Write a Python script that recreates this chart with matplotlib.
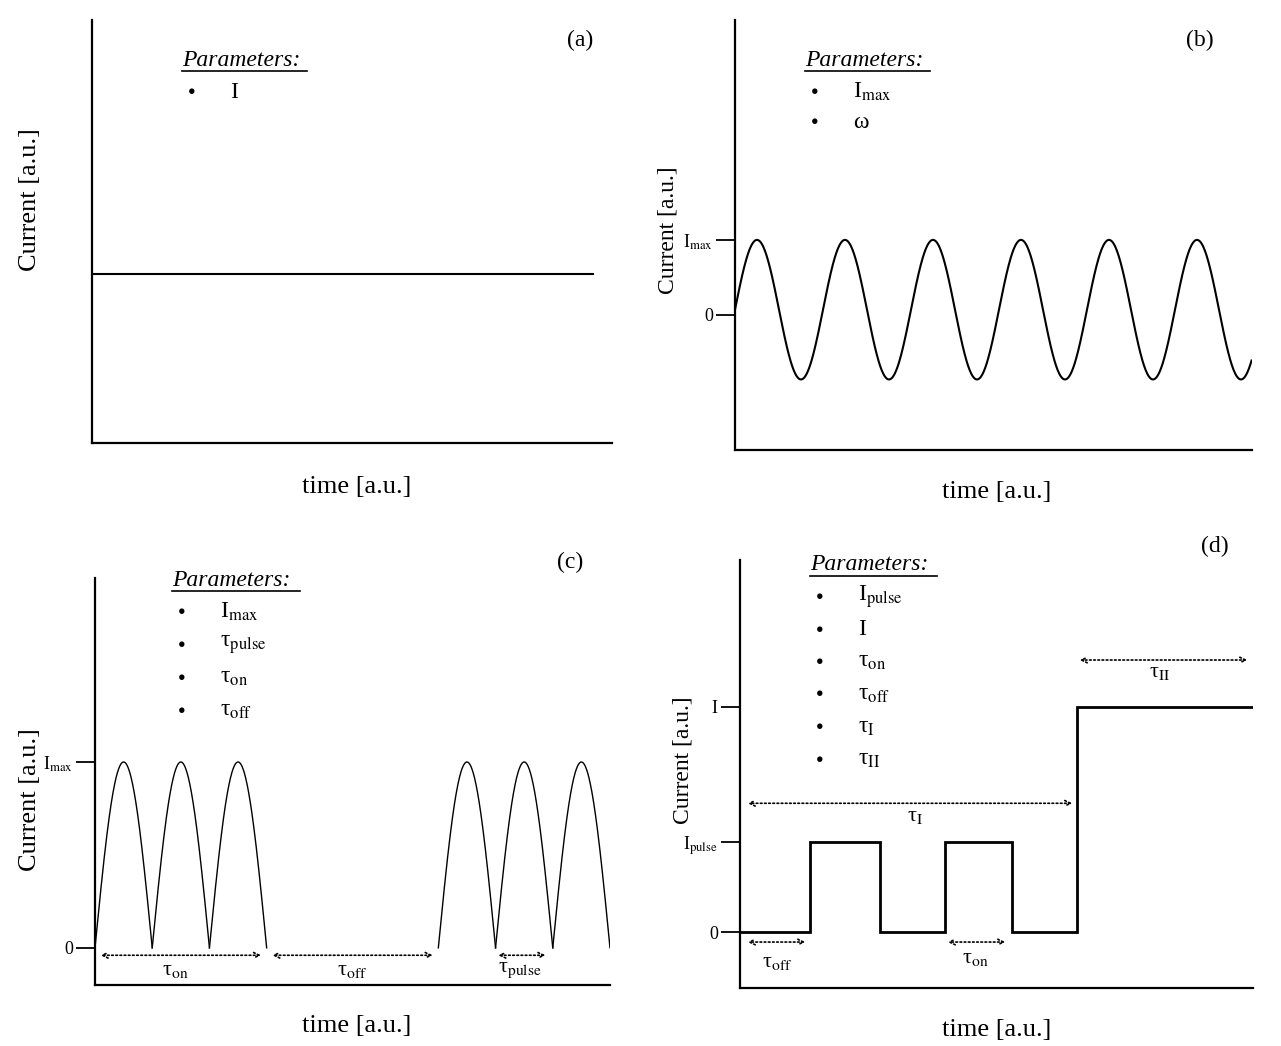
import numpy as np
import matplotlib
matplotlib.use("Agg")
import matplotlib.pyplot as plt
from matplotlib.lines import Line2D

plt.rcParams['font.family'] = ['Liberation Serif', 'DejaVu Serif']
plt.rcParams['mathtext.fontset'] = 'stix'

W, H = 1281, 1046
fig = plt.figure(figsize=(W/100, H/100), dpi=100)

def axpx(l, t, r, b):
    ax = fig.add_axes([l/W, 1-b/H, (r-l)/W, (b-t)/H])
    for s in ['top', 'right']:
        ax.spines[s].set_visible(False)
    for s in ['left', 'bottom']:
        ax.spines[s].set_linewidth(1.6)
    ax.set_xticks([])
    ax.tick_params(axis='y', length=14, width=1.3, direction='out', labelsize=13, pad=2)
    return ax

def ftext(x, y, s, **kw):
    fig.text(x/W, 1-y/H, s, **kw)

def params(x, y, items, dy, wline):
    ftext(x, y, 'Parameters:', fontsize=17, style='italic', va='center')
    fig.add_artist(Line2D([x/W, (x+wline)/W], [1-(y+11)/H]*2, color='k', lw=1.2))
    for i, it in enumerate(items):
        yy = y + 32 + i*dy
        ftext(x+6, yy, '●', fontsize=9, va='center')
        ftext(x+48, yy, it, fontsize=17, va='center')

def arrow(ax, x0, x1, y):
    ax.annotate('', xy=(x0, y), xytext=(x1, y),
                arrowprops=dict(arrowstyle='<->', linestyle=(0, (1, 1.5)), lw=1.2, color='k'))

# ---------- data ----------
a_current = 4.0
a_time_end = 9.63

b_periods = 5.87
b_amp = 0.93
b_offset = 0.07
c_hump_starts_on = [0, 1, 2]
c_hump_starts_on2 = [6, 7, 8]

d_edges = [0, 7, 14, 20.5, 27.2, 33.7, 51.3]
d_levels = [0, 1, 0, 1, 0, 2.5]

# ---------- (a) ----------
ax = axpx(92, 20, 612, 443)
ax.set_xlim(0, 10); ax.set_ylim(0, 10); ax.set_yticks([])
ax.plot([0, a_time_end], [a_current, a_current], color='k', lw=1.5)
params(182, 60, [r'I'], 32, 125)
ftext(580, 40, '(a)', fontsize=17, ha='center', va='center')
ftext(30, 200, 'Current [a.u.]', fontsize=19, rotation=90, ha='center', va='center')
ftext(357, 487, 'time [a.u.]', fontsize=19, ha='center', va='center')

# ---------- (b) ----------
ax = axpx(735, 20, 1252, 450)
ax.set_xlim(0, 5.875); ax.set_ylim(-1.8, 3.93)
t = np.linspace(0, b_periods, 1000)
ax.plot(t, np.sin(2*np.pi*t) * b_amp + b_offset, color='k', lw=1.5)
ax.set_yticks([0, 1]); ax.set_yticklabels(['0', r'I$_{\rm max}$'])
params(805, 60, [r'I$_{\rm max}$', r'ω'], 30, 125)
ftext(1200, 40, '(b)', fontsize=17, ha='center', va='center')
ftext(668, 230, 'Current [a.u.]', fontsize=17, rotation=90, ha='center', va='center')
ftext(997, 492, 'time [a.u.]', fontsize=19, ha='center', va='center')

# ---------- (c) ----------
ax = axpx(95, 578, 610, 985)
ax.set_xlim(0, 9); ax.set_ylim(-0.2, 1.99)
for s in c_hump_starts_on + c_hump_starts_on2:
    u = np.linspace(0, 1, 200)
    ax.plot(s + u, np.sin(np.pi*u), color='k', lw=1.0)
ax.set_yticks([0, 1]); ax.set_yticklabels(['0', r'I$_{\rm max}$'])
arrow(ax, 0.05, 2.95, -0.04)
arrow(ax, 3.05, 5.95, -0.04)
arrow(ax, 7.0, 7.92, -0.04)
ftext(175, 970, r'τ$_{\rm on}$', fontsize=16, ha='center', va='center')
ftext(352, 970, r'τ$_{\rm off}$', fontsize=16, ha='center', va='center')
ftext(520, 970, r'τ$_{\rm pulse}$', fontsize=16, ha='center', va='center')
params(172, 580, [r'I$_{\rm max}$', r'τ$_{\rm pulse}$', r'τ$_{\rm on}$', r'τ$_{\rm off}$'], 33, 128)
ftext(570, 562, '(c)', fontsize=17, ha='center', va='center')
ftext(30, 800, 'Current [a.u.]', fontsize=19, rotation=90, ha='center', va='center')
ftext(357, 1026, 'time [a.u.]', fontsize=19, ha='center', va='center')

# ---------- (d) ----------
ax = axpx(740, 560, 1253, 988)
ax.set_xlim(0, 51.3); ax.set_ylim(-0.62, 4.13)
ax.stairs(d_levels, d_edges, color='k', lw=2.0, baseline=None)
ax.set_yticks([0, 1, 2.5]); ax.set_yticklabels(['0', r'I$_{\rm pulse}$', 'I'])
arrow(ax, 0.5, 33.5, 1.43)
arrow(ax, 33.7, 51.0, 3.02)
arrow(ax, 0.5, 6.8, -0.11)
arrow(ax, 20.5, 26.8, -0.11)
ftext(915, 817, r'τ$_{\rm I}$', fontsize=16, ha='center', va='center')
ftext(1160, 673, r'τ$_{\rm II}$', fontsize=16, ha='center', va='center')
ftext(777, 963, r'τ$_{\rm off}$', fontsize=16, ha='center', va='center')
ftext(975, 958, r'τ$_{\rm on}$', fontsize=16, ha='center', va='center')
params(810, 565, [r'I$_{\rm pulse}$', 'I', r'τ$_{\rm on}$', r'τ$_{\rm off}$',
                  r'τ$_{\rm I}$', r'τ$_{\rm II}$'], 32.5, 127)
ftext(1215, 546, '(d)', fontsize=17, ha='center', va='center')
ftext(683, 760, 'Current [a.u.]', fontsize=17, rotation=90, ha='center', va='center')
ftext(997, 1030, 'time [a.u.]', fontsize=19, ha='center', va='center')

fig.savefig('out.png', dpi=100)
